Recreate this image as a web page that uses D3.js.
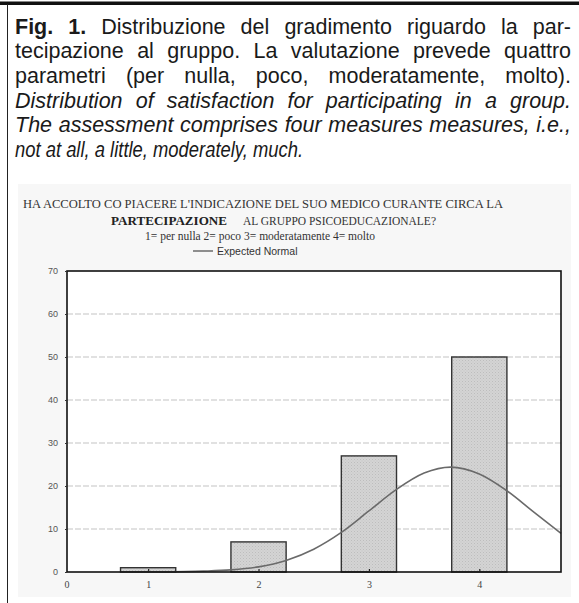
<!DOCTYPE html>
<html>
<head>
<meta charset="utf-8">
<script src="https://cdn.jsdelivr.net/npm/d3@7"></script>
<style>
  html, body { margin: 0; padding: 0; background: #fff; }
  svg { display: block; }
</style>
</head>
<body>
<svg id="chart" width="579" height="603"></svg>
<script>
// dati
const categories = [1, 2, 3, 4];
const counts = [1, 7, 27, 50];
const yTicks = [0, 10, 20, 30, 40, 50, 60, 70];
// curva "Expected Normal" letta punto per punto
const curveX = [1.1, 1.5, 1.75, 2.0, 2.25, 2.5, 2.75, 3.0, 3.25, 3.5, 3.74, 4.0, 4.25, 4.5, 4.74];
const curveY = [0.0, 0.2, 0.5, 1.2, 2.7, 5.3, 9.2, 14.2, 19.2, 23.0, 24.4, 22.8, 18.9, 13.8, 9.0];

const captionLines = [
    [["Fig.", "bold"], ["1.", "bold"], "Distribuzione", "del", "gradimento", "riguardo", "la", "par-"],
    "tecipazione al gruppo. La valutazione prevede quattro",
    "parametri (per nulla, poco, moderatamente, molto).",
    "Distribution of satisfaction for participating in a group.",
    "The assessment comprises four measures measures, i.e.,",
    "not at all, a little, moderately, much."
];
const titleLine1 = "HA ACCOLTO CO PIACERE L'INDICAZIONE DEL SUO MEDICO CURANTE CIRCA LA";
const titleBold = "PARTECIPAZIONE";
const titleLine2 = "AL GRUPPO PSICOEDUCAZIONALE?";
const scaleLine = "1= per nulla 2= poco 3= moderatamente 4= molto";
const legendLabel = "Expected Normal";

const svg = d3.select("#chart");

// bordi della pagina
svg.append("rect").attr("x", 0).attr("y", 1.5).attr("width", 579).attr("height", 3.5).attr("fill", "#111");
svg.append("line").attr("x1", 7.5).attr("x2", 7.5).attr("y1", 4).attr("y2", 603)
    .attr("stroke", "#222").attr("stroke-width", 1);

// didascalia giustificata
const capLeft = 15, capRight = 571, capTop = 33.5, capStep = 24.7;
captionLines.forEach((line, i) => {
    const words = typeof line === "string" ? line.split(" ").map(w => [w, "normal"]) : line.map(w => typeof w === "string" ? [w, "normal"] : w);
    const italic = i >= 3;
    const last = i === captionLines.length - 1;
    const g = svg.append("g");
    if (last) {
        // ultima riga non giustificata, carattere più stretto come nell'originale
        g.append("text")
            .attr("x", capLeft).attr("y", capTop + i * capStep)
            .attr("textLength", 288).attr("lengthAdjust", "spacingAndGlyphs")
            .style("font-family", "'Liberation Sans', Arial, sans-serif")
            .style("font-size", "21.5px").style("font-style", "italic")
            .attr("fill", "#1a1a1a")
            .text(words.map(w => w[0]).join(" "));
        return;
    }
    const nodes = words.map(([w, weight]) => g.append("text")
        .attr("y", capTop + i * capStep)
        .style("font-family", "'Liberation Sans', Arial, sans-serif")
        .style("font-size", "21.5px")
        .style("font-weight", weight)
        .style("font-style", italic ? "italic" : "normal")
        .attr("fill", "#1a1a1a")
        .text(w));
    const widths = nodes.map(n => n.node().getComputedTextLength());
    const gap = (capRight - capLeft - d3.sum(widths)) / (words.length - 1);
    let x = capLeft;
    nodes.forEach((n, k) => { n.attr("x", x); x += widths[k] + gap; });
});

// sfondo della figura
svg.append("rect").attr("x", 18).attr("y", 184).attr("width", 553).attr("height", 413).attr("fill", "#f7f7f7");

const serif = "'Liberation Serif', 'Times New Roman', serif";
svg.append("text").attr("x", 23).attr("y", 207.8)
    .attr("textLength", 480).attr("lengthAdjust", "spacingAndGlyphs")
    .style("font-family", serif).style("font-size", "12.2px").attr("fill", "#333")
    .text(titleLine1);
svg.append("text").attr("x", 111).attr("y", 224.5)
    .attr("textLength", 116).attr("lengthAdjust", "spacingAndGlyphs")
    .style("font-family", serif).style("font-size", "12.2px").style("font-weight", "bold").attr("fill", "#222")
    .text(titleBold);
svg.append("text").attr("x", 243).attr("y", 224.5)
    .attr("textLength", 193).attr("lengthAdjust", "spacingAndGlyphs")
    .style("font-family", serif).style("font-size", "11.5px").attr("fill", "#333")
    .text(titleLine2);
svg.append("text").attr("x", 145).attr("y", 239.5)
    .attr("textLength", 230).attr("lengthAdjust", "spacingAndGlyphs")
    .style("font-family", serif).style("font-size", "11.5px").attr("fill", "#333")
    .text(scaleLine);

// legenda
svg.append("line").attr("x1", 193).attr("x2", 213).attr("y1", 251).attr("y2", 251)
    .attr("stroke", "#555").attr("stroke-width", 1.3);
svg.append("text").attr("x", 217).attr("y", 254.8)
    .style("font-family", "'Liberation Sans', Arial, sans-serif").style("font-size", "10.5px").attr("fill", "#333")
    .text(legendLabel);

// area del grafico
const plot = { left: 67, right: 561, top: 271, bottom: 572 };
const x = d3.scaleLinear().domain([0.265, 4.74]).range([plot.left, plot.right]);
const y = d3.scaleLinear().domain([0, 70]).range([plot.bottom, plot.top]);

svg.append("rect").attr("x", plot.left).attr("y", plot.top)
    .attr("width", plot.right - plot.left).attr("height", plot.bottom - plot.top).attr("fill", "#fff");

// griglia tratteggiata
svg.append("g").selectAll("line")
    .data(yTicks.filter(d => d > 0 && d < 70))
    .join("line")
    .attr("x1", plot.left).attr("x2", plot.right)
    .attr("y1", d => y(d)).attr("y2", d => y(d))
    .attr("stroke", "#c4c4c4").attr("stroke-width", 1.1)
    .attr("stroke-dasharray", "6,2");

// trama delle barre
const defs = svg.append("defs");
const pat = defs.append("pattern").attr("id", "hatch").attr("patternUnits", "userSpaceOnUse")
    .attr("width", 3).attr("height", 3);
pat.append("rect").attr("width", 3).attr("height", 3).attr("fill", "#d4d4d4");
pat.append("rect").attr("x", 0).attr("y", 0).attr("width", 1).attr("height", 1).attr("fill", "#bdbdbd");
pat.append("rect").attr("x", 1.5).attr("y", 1.5).attr("width", 1).attr("height", 1).attr("fill", "#c6c6c6");

const bars = categories.map((c, i) => ({ c, v: counts[i] }));
svg.append("g").selectAll("rect")
    .data(bars)
    .join("rect")
    .attr("x", d => x(d.c - 0.25))
    .attr("width", d => x(d.c + 0.25) - x(d.c - 0.25))
    .attr("y", d => y(d.v))
    .attr("height", d => y(0) - y(d.v))
    .attr("fill", "url(#hatch)")
    .attr("stroke", "#333").attr("stroke-width", 1.4);

// curva normale attesa
const pts = curveX.map((cx, i) => [cx, curveY[i]]);
svg.append("path")
    .datum(pts)
    .attr("fill", "none")
    .attr("stroke", "#6a6a6a").attr("stroke-width", 1.6)
    .attr("d", d3.line().x(d => x(d[0])).y(d => y(d[1])).curve(d3.curveMonotoneX));

// cornice
svg.append("rect").attr("x", plot.left).attr("y", plot.top)
    .attr("width", plot.right - plot.left).attr("height", plot.bottom - plot.top)
    .attr("fill", "none").attr("stroke", "#111").attr("stroke-width", 1.6);

// asse y
const yAxis = svg.append("g")
    .attr("transform", `translate(${plot.left},0)`)
    .call(d3.axisLeft(y).tickValues(yTicks).tickSize(2).tickPadding(7));
yAxis.select(".domain").remove();
yAxis.selectAll("line").attr("stroke", "#333");
yAxis.selectAll("text").style("font-family", "'Liberation Sans', Arial, sans-serif")
    .style("font-size", "9px").attr("fill", "#555");

// asse x
const xAxis = svg.append("g")
    .attr("transform", `translate(0,${plot.bottom})`)
    .call(d3.axisBottom(x).tickValues(categories).tickFormat(d3.format("d")).tickSize(-3).tickPadding(9));
xAxis.select(".domain").remove();
xAxis.selectAll("line").attr("stroke", "#222").attr("stroke-width", 1.2);
xAxis.selectAll("text").style("font-family", serif).style("font-size", "10px").attr("fill", "#444");
xAxis.append("text").attr("x", x(0.265)).attr("y", 9).attr("dy", "0.71em")
    .attr("text-anchor", "middle")
    .style("font-family", serif).style("font-size", "10px").attr("fill", "#444")
    .text("0");
</script>
</body>
</html>
